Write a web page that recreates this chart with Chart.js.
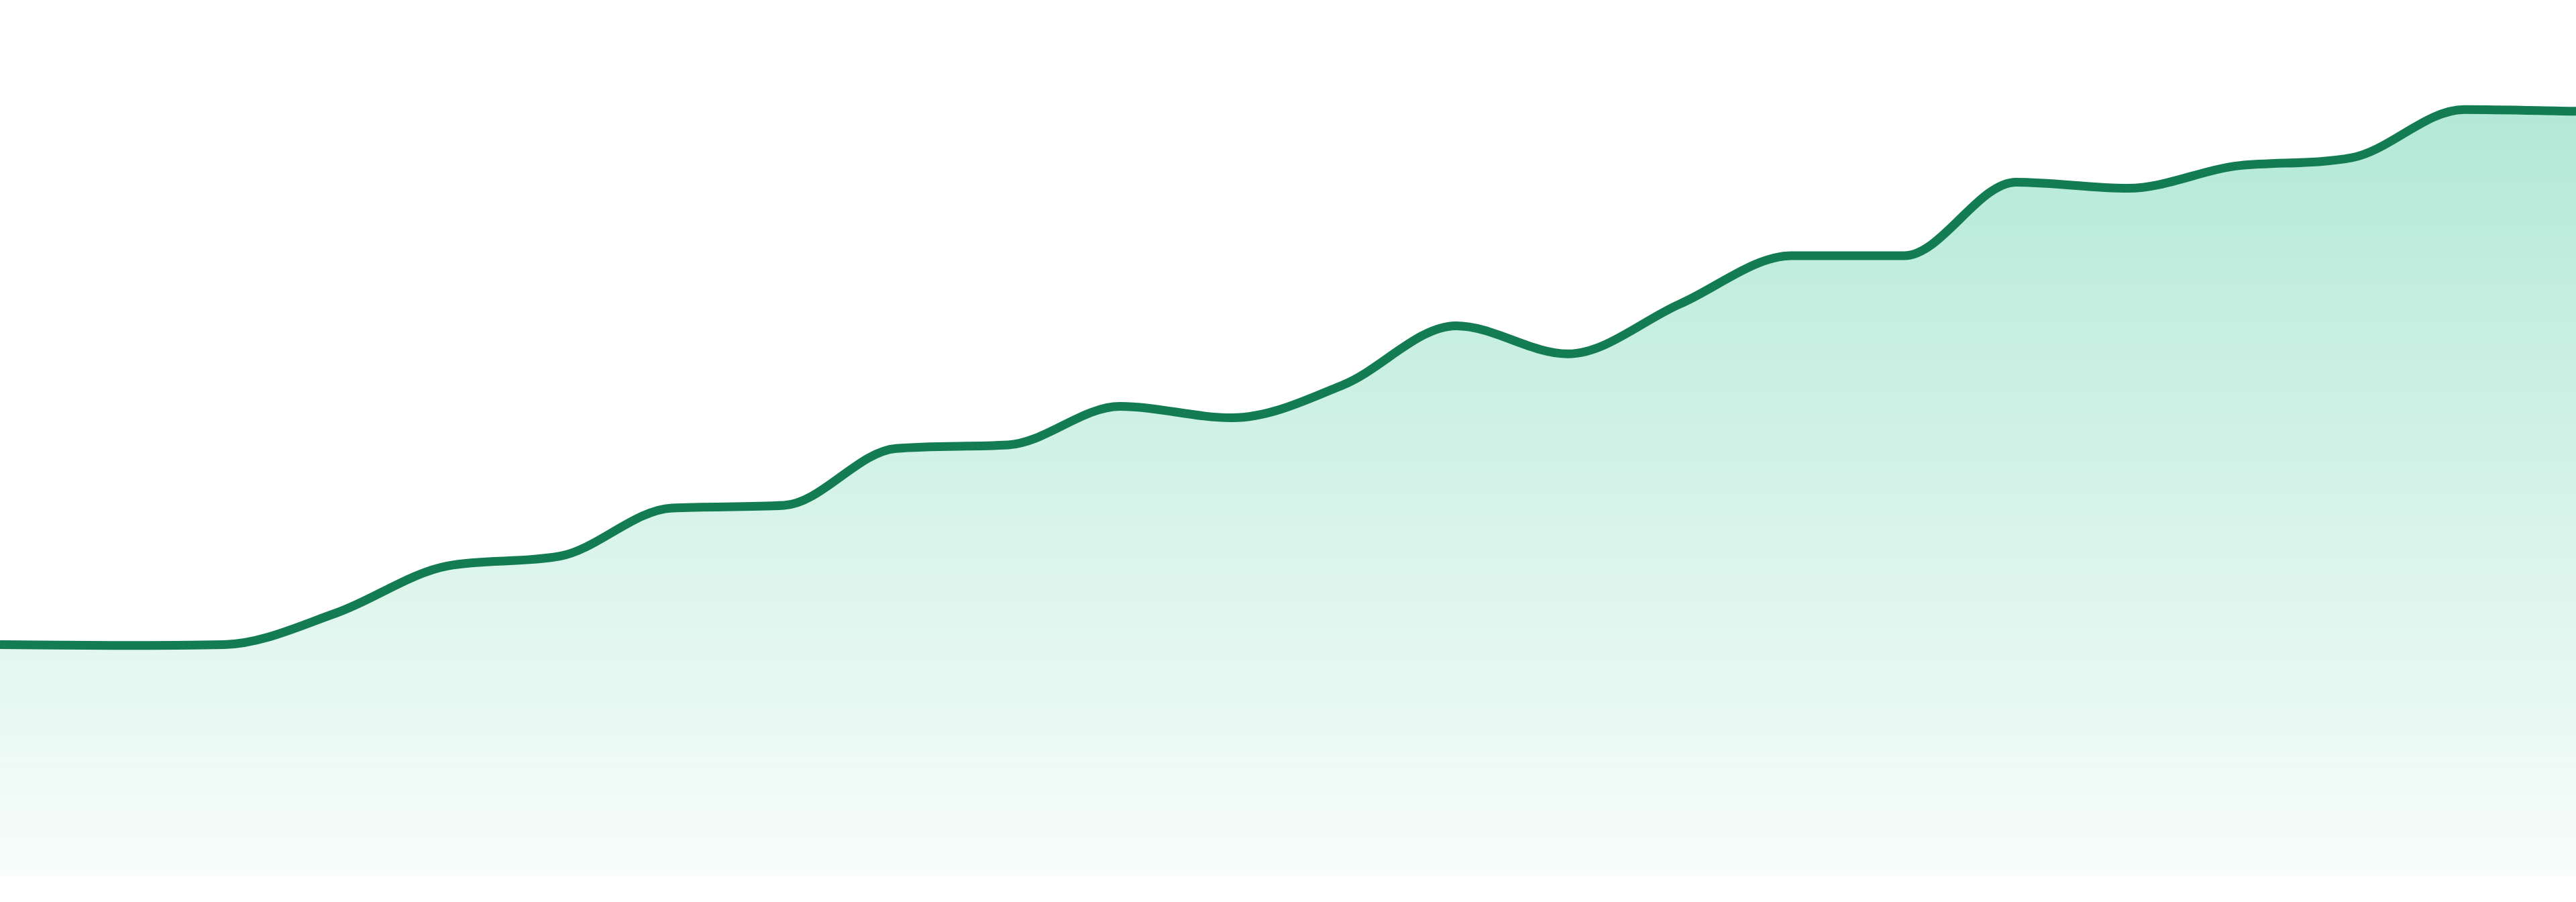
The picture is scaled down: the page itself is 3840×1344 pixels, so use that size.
<!DOCTYPE html>
<html>
<head>
<meta charset="utf-8">
<script src="https://cdn.jsdelivr.net/npm/chart.js@4"></script>
<style>
  html, body { margin: 0; padding: 0; background: #ffffff; }
  #wrap { width: 3840px; height: 1344px; position: relative; }
</style>
</head>
<body>
<div id="wrap"><canvas id="chart"></canvas></div>
<script>
const labels = [
  'Jan 23', 'Feb 23', 'Mar 23', 'Apr 23', 'May 23', 'Jun 23',
  'Jul 23', 'Aug 23', 'Sep 23', 'Oct 23', 'Nov 23', 'Dec 23',
  'Jan 24', 'Feb 24', 'Mar 24', 'Apr 24', 'May 24', 'Jun 24',
  'Jul 24', 'Aug 24', 'Sep 24', 'Oct 24', 'Nov 24', 'Dec 24',
];
const values = [
  26.4, 26.3, 26.4, 30.0, 35.4, 36.5,
  42.0, 42.3, 48.8, 49.2, 53.6, 52.3,
  56.1, 62.8, 59.6, 65.3, 70.8, 70.8,
  79.2, 78.5, 81.1, 82.0, 87.5, 87.3,
];
const yMin = 0;
const yMax = 100;

const lineColor = '#137c52';

// soft green wash, fading out toward the bottom of the plot
function areaFill(context) {
  const { ctx, chartArea } = context.chart;
  if (!chartArea) return 'rgba(16, 185, 129, 0.2)';
  const g = ctx.createLinearGradient(0, chartArea.top, 0, chartArea.bottom);
  g.addColorStop(0, 'rgba(16, 185, 129, 0.36)');
  g.addColorStop(1, 'rgba(16, 185, 129, 0.03)');
  return g;
}

new Chart(document.getElementById('chart'), {
  type: 'line',
  data: {
    labels,
    datasets: [
      {
        data: values,
        borderColor: lineColor,
        borderWidth: 13,
        backgroundColor: areaFill,
        fill: 'start',
        cubicInterpolationMode: 'monotone',
        pointRadius: 0,
        pointHoverRadius: 0,
      },
    ],
  },
  options: {
    responsive: true,
    maintainAspectRatio: false,
    animation: false,
    layout: { padding: { top: 0, left: 0, right: 0, bottom: 39 } },
    plugins: {
      legend: { display: false },
      tooltip: { enabled: false },
    },
    scales: {
      x: { display: false },
      y: { display: false, min: yMin, max: yMax },
    },
  },
});
</script>
</body>
</html>
